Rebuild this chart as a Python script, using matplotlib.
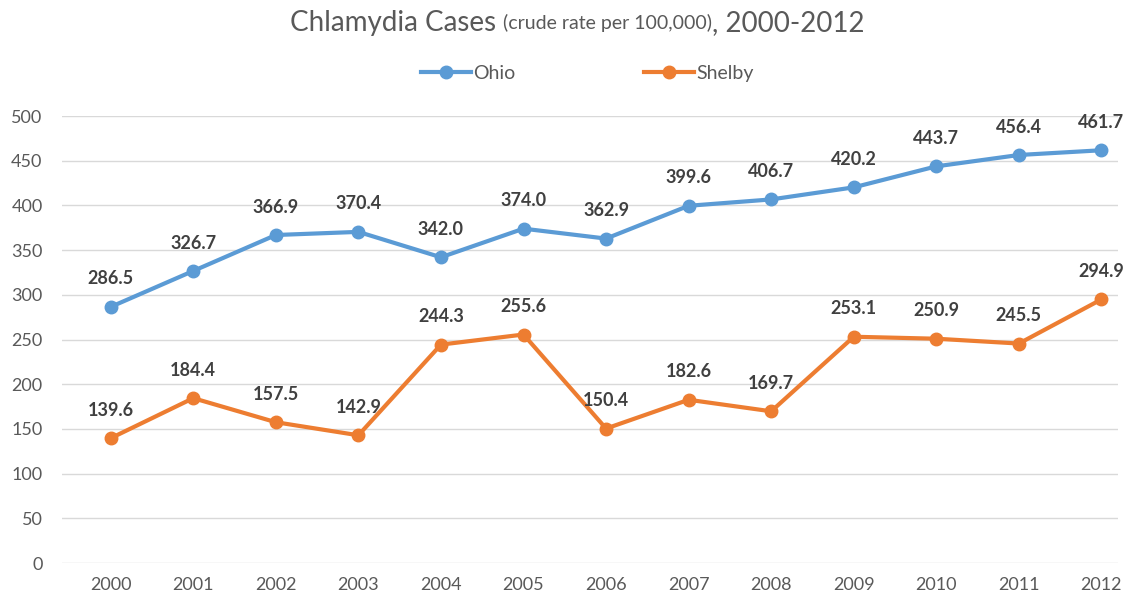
import matplotlib
matplotlib.use("Agg")
import matplotlib.pyplot as plt

years = ["2000", "2001", "2002", "2003", "2004", "2005", "2006",
         "2007", "2008", "2009", "2010", "2011", "2012"]
ohio = [286.5, 326.7, 366.9, 370.4, 342.0, 374.0, 362.9,
        399.6, 406.7, 420.2, 443.7, 456.4, 461.7]
shelby = [139.6, 184.4, 157.5, 142.9, 244.3, 255.6, 150.4,
          182.6, 169.7, 253.1, 250.9, 245.5, 294.9]
yticks = [0, 50, 100, 150, 200, 250, 300, 350, 400, 450, 500]

plt.rcParams['font.family'] = ['Lato', 'DejaVu Sans']

fig = plt.figure(figsize=(11.23, 6.03), dpi=100)
ax = fig.add_axes([0.0552, 0.0663, 0.9403, 0.7413])

blue = '#5B9BD5'
orange = '#ED7D31'
x = list(range(len(years)))
ax.plot(x, ohio, color=blue, lw=3, marker='o', ms=9, label='Ohio', zorder=3)
ax.plot(x, shelby, color=orange, lw=3, marker='o', ms=9, label='Shelby', zorder=3)

for series in (ohio, shelby):
    for xi, v in zip(x, series):
        ax.annotate(f"{v:.1f}", (xi, v), xytext=(0, 14), textcoords='offset points',
                    ha='center', va='bottom', fontsize=13, fontweight='bold', color='#404040')

ax.set_xlim(-0.59, 12.2)
ax.set_ylim(0, 500)
ax.set_xticks(x)
ax.set_xticklabels(years)
ax.set_yticks(yticks)
ax.tick_params(axis='both', length=0, labelsize=13, labelcolor='#595959')
ax.tick_params(axis='x', pad=10)
ax.tick_params(axis='y', pad=14)
ax.grid(axis='y', color='#D9D9D9', lw=1)
ax.set_axisbelow(True)
for s in ax.spines.values():
    s.set_visible(False)

# Title built from three pieces, centred as a whole
ty = 0.962
t1 = fig.text(0.0, ty, "Chlamydia Cases ", ha='left', va='center', fontsize=20, color='#595959')
fig.canvas.draw()
r = fig.canvas.get_renderer()
bb1 = t1.get_window_extent(r)
t2 = fig.text(bb1.x1 / fig.bbox.width, ty, "(crude rate per 100,000)", ha='left', va='center',
              fontsize=14, color='#595959')
bb2 = t2.get_window_extent(r)
t3 = fig.text(bb2.x1 / fig.bbox.width, ty, ", 2000-2012", ha='left', va='center',
              fontsize=20, color='#595959')
bb3 = t3.get_window_extent(r)
total = (bb3.x1 - bb1.x0) / fig.bbox.width
offset = 0.5 - total / 2 + 0.014
for t in (t1, t2, t3):
    px, py = t.get_position()
    t.set_position((px + offset, py))

fig.legend(loc='center', bbox_to_anchor=(0.523, 0.878), ncol=2, frameon=False,
           fontsize=14, handlelength=2.6, columnspacing=6.6, handletextpad=0.1,
           labelcolor='#595959')

fig.savefig("out.png", dpi=100)
